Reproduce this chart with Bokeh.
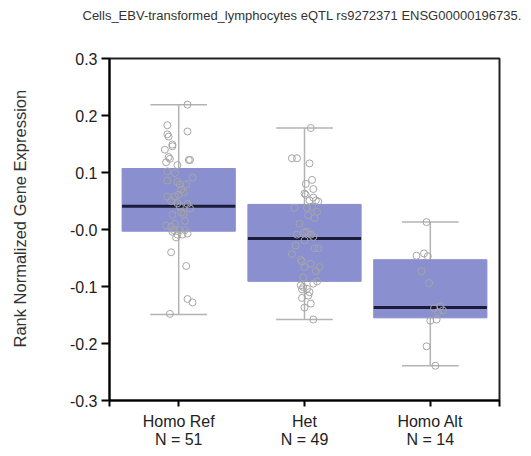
from bokeh.plotting import figure
from bokeh.models import Range1d, FixedTicker, Title
from bokeh.embed import file_html
from bokeh.resources import INLINE

# ---- data ----
categories = ["Homo Ref", "Het", "Homo Alt"]
counts = [51, 49, 14]
q1 = [-0.003, -0.091, -0.155]
medians = [0.041, -0.016, -0.137]
q3 = [0.107, 0.044, -0.053]
lower = [-0.149, -0.158, -0.239]
upper = [0.219, 0.178, 0.013]

ref_values = [0.219, 0.183, 0.172, 0.167, 0.163, 0.149, 0.146, 0.140, 0.127, 0.124,
              0.122, 0.122, 0.113, 0.102, 0.091, 0.086, 0.084, 0.079, 0.079, 0.065,
              0.058, 0.058, 0.061, 0.046, 0.045, 0.040, 0.037, 0.026, 0.027, 0.010,
              0.007, 0.005, -0.001, -0.001, -0.001, -0.004, -0.009, -0.009, -0.007, -0.014,
              -0.040, -0.064, -0.122, -0.128, -0.148, 0.099, 0.070, 0.050, 0.030, 0.015, 0.118]
ref_jitter = [0.07, -0.09, 0.07, -0.09, -0.08, -0.05, -0.05, -0.11, -0.08, -0.07,
              0.08, 0.09, -0.01, -0.09, 0.11, -0.09, -0.01, 0.01, 0.06, 0.04,
              -0.09, -0.03, 0.00, -0.01, 0.07, 0.01, 0.09, -0.05, 0.04, -0.03,
              -0.10, -0.06, -0.04, 0.01, 0.05, -0.05, -0.01, 0.03, 0.07, -0.02,
              -0.06, 0.06, 0.07, 0.11, -0.07, -0.03, 0.02, -0.06, 0.02, 0.05, -0.10]

het_values = [0.178, 0.125, 0.125, 0.116, 0.087, 0.080, 0.071, 0.063, 0.061, 0.056,
              0.051, 0.051, 0.049, 0.038, 0.038, 0.040, 0.031, 0.025, -0.004, -0.005,
              -0.009, -0.009, -0.013, -0.019, -0.028, -0.033, -0.033, -0.043, -0.053, -0.056,
              -0.066, -0.066, -0.073, -0.084, -0.091, -0.095, -0.098, -0.101, -0.105, -0.104,
              -0.110, -0.116, -0.130, -0.137, -0.158, 0.010, -0.060, -0.120, 0.020]
het_jitter = [0.05, -0.10, -0.06, 0.04, 0.06, 0.01, 0.07, 0.00, 0.01, 0.07,
              0.04, 0.09, 0.11, -0.08, 0.02, 0.06, 0.10, 0.03, 0.02, 0.00,
              -0.06, 0.05, 0.07, 0.00, -0.07, 0.08, 0.11, -0.10, -0.03, -0.02,
              0.00, 0.12, 0.09, -0.01, 0.10, 0.07, -0.03, -0.01, -0.02, 0.02,
              0.04, 0.03, 0.05, 0.00, 0.07, -0.04, 0.05, -0.02, 0.08]

alt_values = [0.013, -0.046, -0.042, -0.047, -0.073, -0.094, -0.135, -0.142, -0.145,
              -0.160, -0.158, -0.205, -0.239, -0.138]
alt_jitter = [-0.03, -0.11, -0.05, -0.02, -0.07, -0.01, 0.08, 0.10, 0.06,
              0.00, 0.05, -0.03, 0.04, 0.03]

y_ticks = [-0.3, -0.2, -0.1, 0.0, 0.1, 0.2, 0.3]
y_tick_labels = ["-0.3", "-0.2", "-0.1", "-0.0", "0.1", "0.2", "0.3"]

# ---- styles ----
FONT = "Liberation Sans"
BOX_W = 0.9
CAP_W = 0.45
BOX_COLOR = "#8a8fcf"
WHISK_COLOR = "#b3b3b3"
PT_COLOR = "#a6a6a6"
MED_COLOR = "#1c1c3a"

xs = [i + 1 for i in range(len(categories))]

p = figure(width=531, height=456, output_backend="svg", toolbar_location=None,
           x_range=Range1d(0.45, 3.55), y_range=Range1d(-0.3, 0.3),
           min_border_left=109, min_border_top=0, min_border_right=32, min_border_bottom=56)
p.grid.visible = False
p.background_fill_color = "white"
p.border_fill_color = "white"
p.outline_line_color = "#222222"
p.outline_line_width = 2

# whisker stems
p.segment(x0=xs, x1=xs, y0=lower, y1=q1, line_color=WHISK_COLOR, line_width=1.5)
p.segment(x0=xs, x1=xs, y0=q3, y1=upper, line_color=WHISK_COLOR, line_width=1.5)
# caps
p.segment(x0=[x - CAP_W / 2 for x in xs], x1=[x + CAP_W / 2 for x in xs], y0=lower, y1=lower,
          line_color=WHISK_COLOR, line_width=1.5)
p.segment(x0=[x - CAP_W / 2 for x in xs], x1=[x + CAP_W / 2 for x in xs], y0=upper, y1=upper,
          line_color=WHISK_COLOR, line_width=1.5)
# boxes
p.vbar(x=xs, width=BOX_W, bottom=q1, top=q3, fill_color=BOX_COLOR, line_color=BOX_COLOR)
# medians
p.segment(x0=[x - BOX_W / 2 for x in xs], x1=[x + BOX_W / 2 for x in xs], y0=medians, y1=medians,
          line_color=MED_COLOR, line_width=3)

# points
for xc, vals, jit in [(xs[0], ref_values, ref_jitter), (xs[1], het_values, het_jitter),
                      (xs[2], alt_values, alt_jitter)]:
    p.scatter(x=[xc + j for j in jit], y=vals, marker="circle", size=7,
              fill_color=None, line_color=PT_COLOR, line_width=1)

# axes
p.yaxis.ticker = FixedTicker(ticks=y_ticks)
p.yaxis.major_label_overrides = {t: l for t, l in zip(y_ticks, y_tick_labels)}
p.yaxis.minor_tick_line_color = None
p.yaxis.major_tick_out = 8
p.yaxis.major_tick_in = 0
p.yaxis.major_tick_line_width = 2
p.yaxis.axis_line_width = 2
p.yaxis.major_label_text_font = FONT
p.yaxis.major_label_text_font_size = "16px"
p.yaxis.major_label_text_color = "#222222"
p.yaxis.major_label_standoff = 4
p.yaxis.axis_label = " "
p.yaxis.axis_label_standoff = 15

x_ticks = [0.45] + xs + [3.55]
p.xaxis.ticker = FixedTicker(ticks=x_ticks)
overrides = {0.45: "", 3.55: ""}
for x, c, n in zip(xs, categories, counts):
    overrides[x] = f"{c}\nN = {n}"
p.xaxis.major_label_overrides = overrides
p.xaxis.minor_tick_line_color = None
p.xaxis.major_tick_out = 6
p.xaxis.major_tick_in = 0
p.xaxis.major_tick_line_width = 2
p.xaxis.axis_line_width = 2
p.xaxis.major_label_text_font = FONT
p.xaxis.major_label_text_font_size = "16px"
p.xaxis.major_label_text_line_height = 1.1
p.xaxis.major_label_text_color = "#222222"
p.xaxis.major_label_standoff = 6

# y label as a left title (offset along the axis)
ylab = Title(text="Rank Normalized Gene Expression", align="left", offset=53,
             text_font=FONT, text_font_size="16.5px", text_font_style="normal",
             text_color="#333333")
p.add_layout(ylab, "left")

# main title with spacer
p.add_layout(Title(text=" ", text_font_size="17px"), "above")
p.add_layout(Title(text="Cells_EBV-transformed_lymphocytes eQTL rs9272371 ENSG00000196735.",
                   align="left", offset=-27, text_font=FONT, text_font_size="13px",
                   text_font_style="normal", text_color="#333333"), "above")

open("out.html", "w").write(file_html(p, INLINE))
